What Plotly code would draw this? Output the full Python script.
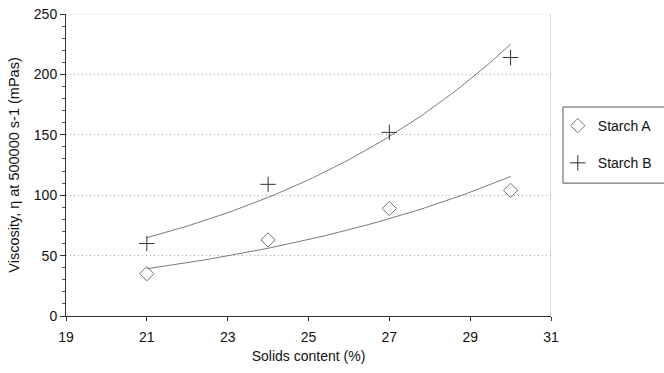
import numpy as np
import plotly.graph_objects as go

solids = [21, 24, 27, 30]
starch_a = [35, 63, 89, 104]
starch_b = [60, 109, 152, 214]
x_ticks = [19, 21, 23, 25, 27, 29, 31]
y_ticks = [0, 50, 100, 150, 200, 250]

FONT = "Liberation Sans, Arial, sans-serif"
GRID = dict(color="#a8a8a8", width=1, dash="1px,3px")

def exp_fit(x, y):
    x = np.array(x, float)
    b, a = np.polyfit(x, np.log(np.array(y, float)), 1)
    xs = np.linspace(x.min(), x.max(), 60)
    return xs, np.exp(a + b * xs)

fig = go.Figure()
for ys in (starch_a, starch_b):
    xs, yf = exp_fit(solids, ys)
    fig.add_trace(go.Scatter(x=xs, y=yf, mode="lines", line=dict(color="#7a7a7a", width=1),
                             showlegend=False, hoverinfo="skip"))

fig.add_trace(go.Scatter(x=solids, y=starch_a, mode="markers", name="Starch A", legendgroup="a",
                         marker=dict(symbol="diamond-open", size=11, color="#707070", line=dict(width=1))))
fig.add_trace(go.Scatter(x=solids, y=starch_b, mode="markers", name="Starch B", legendgroup="b",
                         marker=dict(symbol="cross-thin-open", size=11, color="#303030", line=dict(width=1))))

fig.update_layout(
    width=664, height=373,
    margin=dict(l=66, r=113, t=14, b=57, autoexpand=False),
    paper_bgcolor="white", plot_bgcolor="white",
    font=dict(family=FONT, size=13, color="#111111"),
    showlegend=True,
    legend=dict(x=1.014, y=0.682, xanchor="left", yanchor="top", font=dict(size=14, family=FONT),
                borderwidth=0, bgcolor="rgba(0,0,0,0)", tracegroupgap=16, itemwidth=30),
    xaxis=dict(range=[19, 31], tickvals=x_ticks, ticks="outside", ticklen=4, tickcolor="#333",
               showline=True, linecolor="#333", linewidth=1, showgrid=False, zeroline=False,
               automargin=False, ticklabelstandoff=4,
               tickfont=dict(size=14), title=dict(text="Solids content (%)", font=dict(size=14), standoff=7)),
    yaxis=dict(range=[0, 250], tickvals=y_ticks, ticks="outside", ticklen=5, tickcolor="#333",
               showline=True, linecolor="#333", linewidth=1, zeroline=False,
               showgrid=True, gridcolor=GRID["color"], griddash=GRID["dash"], gridwidth=1,
               minor=dict(dtick=10, ticks="outside", ticklen=3, tickcolor="#555", showgrid=False),
               automargin=False,
               tickfont=dict(size=14),
               title=dict(text="Viscosity, η at 500000 s-1 (mPas)", font=dict(size=14.5), standoff=10)),
    shapes=[
        dict(type="line", xref="paper", yref="y", x0=0, x1=1, y0=250, y1=250, line=GRID),
        dict(type="line", xref="x", yref="paper", x0=31, x1=31, y0=0, y1=1, line=dict(color="#bbbbbb", width=1)),
        dict(type="rect", xref="paper", yref="paper", x0=1.0247, x1=1.24, y0=0.44, y1=0.692,
             line=dict(color="#555555", width=1)),
    ],
)

fig.write_html("out.html", config={"displayModeBar": False},
               post_script="document.body.style.margin='0';document.body.style.overflow='hidden';")
